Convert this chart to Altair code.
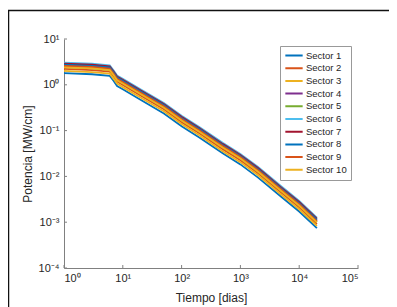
import altair as alt
import pandas as pd

tiempo = [1, 3, 6, 7, 8, 10, 20, 50, 100, 200, 500, 1000, 2000, 5000, 10000, 20000]

sector_1 = [1.80, 1.70, 1.56, 1.21, 0.94, 0.80, 0.472, 0.236, 0.124, 0.0708, 0.0319, 0.0183, 0.0094, 0.00354, 0.00171, 0.00074]
sector_2 = [2.23, 2.10, 1.93, 1.50, 1.17, 0.99, 0.584, 0.292, 0.153, 0.0876, 0.0394, 0.0226, 0.0117, 0.00438, 0.00212, 0.00091]
sector_3 = [2.01, 1.90, 1.75, 1.35, 1.06, 0.89, 0.528, 0.264, 0.139, 0.0792, 0.0356, 0.0205, 0.0106, 0.00396, 0.00191, 0.00083]
sector_4 = [2.62, 2.48, 2.28, 1.76, 1.38, 1.16, 0.69, 0.344, 0.181, 0.103, 0.0464, 0.0267, 0.0138, 0.00516, 0.00249, 0.00108]
sector_5 = [2.44, 2.30, 2.12, 1.64, 1.28, 1.08, 0.64, 0.32, 0.168, 0.096, 0.0432, 0.0248, 0.0128, 0.0048, 0.00232, 0.00100]
sector_6 = [3.05, 2.88, 2.65, 2.05, 1.60, 1.35, 0.80, 0.40, 0.21, 0.12, 0.054, 0.031, 0.016, 0.0060, 0.0029, 0.00125]
sector_7 = [2.90, 2.74, 2.52, 1.95, 1.52, 1.28, 0.76, 0.38, 0.200, 0.114, 0.0513, 0.0295, 0.0152, 0.0057, 0.00276, 0.00119]
sector_8 = [2.75, 2.59, 2.39, 1.85, 1.44, 1.22, 0.72, 0.36, 0.189, 0.108, 0.0486, 0.0279, 0.0144, 0.0054, 0.00261, 0.00113]
sector_9 = [2.59, 2.45, 2.25, 1.74, 1.36, 1.15, 0.68, 0.34, 0.179, 0.102, 0.0459, 0.0264, 0.0136, 0.0051, 0.00247, 0.00106]
sector_10 = [2.41, 2.28, 2.09, 1.62, 1.26, 1.07, 0.632, 0.316, 0.166, 0.0948, 0.0427, 0.0245, 0.0126, 0.00474, 0.00229, 0.00099]

sectores = [f"Sector {i}" for i in range(1, 11)]
series = [sector_1, sector_2, sector_3, sector_4, sector_5,
          sector_6, sector_7, sector_8, sector_9, sector_10]
colores = ["#0072BD", "#D95319", "#EDB120", "#7E2F8E", "#77AC30",
           "#4DBEEE", "#A2142F", "#0072BD", "#D95319", "#EDB120"]

x_ticks = [1, 10, 100, 1000, 10000, 100000]
y_ticks = [1e-4, 1e-3, 1e-2, 1e-1, 1, 10]

rows = []
for s, vals in zip(sectores, series):
    for t, v in zip(tiempo, vals):
        rows.append({"sector": s, "t": t, "p": v})
df = pd.DataFrame(rows)

sup = {-4: "⁻⁴", -3: "⁻³", -2: "⁻²", -1: "⁻¹", 0: "⁰", 1: "¹", 2: "²",
       3: "³", 4: "⁴", 5: "⁵"}
expr = "''"
for e, s in sup.items():
    expr = f"(round(log(datum.value)/LN10) == {e}) ? '10{s}' : ({expr})"

W, H = 294, 229
AX = "#808080"
TXT = "#262626"
FONT = "Liberation Sans"

xscale = alt.Scale(type="log", domain=[1, 100000])
yscale = alt.Scale(type="log", domain=[1e-4, 10])

color = alt.Color(
    "sector:N",
    scale=alt.Scale(domain=sectores, range=colores),
    legend=alt.Legend(
        title=None, orient="none", legendX=216, legendY=7,
        symbolType="stroke", symbolSize=300, symbolStrokeWidth=2,
        labelFont=FONT, labelFontSize=9.5, labelColor=TXT,
        labelOffset=2, clipHeight=11, rowPadding=1.7, padding=4,
        strokeColor="#999999", fillColor="white",
    ),
)

x_enc = alt.X("t:Q", scale=xscale, axis=alt.Axis(
    values=x_ticks, labelExpr=expr, title="Tiempo [dias]",
    labelPadding=4, titleX=W / 2, titleY=29, titleBaseline="middle"))
y_enc = alt.Y("p:Q", scale=yscale, axis=alt.Axis(
    values=y_ticks, labelExpr=expr, title="Potencia [MW/cm]",
    labelPadding=5, titleX=-37, titleY=H / 2, titleBaseline="middle",
    titleAlign="center"))

layers = []
for s in sectores:
    layers.append(
        alt.Chart(df).transform_filter(alt.datum.sector == s)
        .mark_line(strokeWidth=1.8, clip=True)
        .encode(x=x_enc, y=y_enc, color=color)
    )

xt = alt.Chart(pd.DataFrame({"t": x_ticks})).mark_rule(color=AX, strokeWidth=1).encode(
    x=alt.X("t:Q", scale=xscale), y=alt.value(H), y2=alt.value(H - 3))
yt = alt.Chart(pd.DataFrame({"p": y_ticks})).mark_rule(color=AX, strokeWidth=1).encode(
    y=alt.Y("p:Q", scale=yscale), x=alt.value(0), x2=alt.value(3))

frame_top = alt.Chart(alt.Data(values=[{}])).mark_rule(color="#111111", strokeWidth=1.5).encode(
    x=alt.value(-57), x2=alt.value(340), y=alt.value(-28.5))
frame_left = alt.Chart(alt.Data(values=[{}])).mark_rule(color="#111111", strokeWidth=1.5).encode(
    x=alt.value(-55.5), y=alt.value(-29), y2=alt.value(290))

chart = alt.layer(*layers, xt, yt, frame_top, frame_left).properties(
    width=W, height=H,
    autosize=alt.AutoSizeParams(type="none"),
    padding={"left": 56, "top": 31, "right": 31, "bottom": 40},
).configure_view(stroke=None).configure_axis(
    grid=False, ticks=False, domainColor=AX, domainWidth=1,
    labelFont=FONT, labelFontSize=11, labelColor=TXT,
    titleFont=FONT, titleFontSize=12, titleFontWeight="normal", titleColor=TXT,
)

chart.save("out.html", embed_options={"renderer": "svg", "actions": False})
